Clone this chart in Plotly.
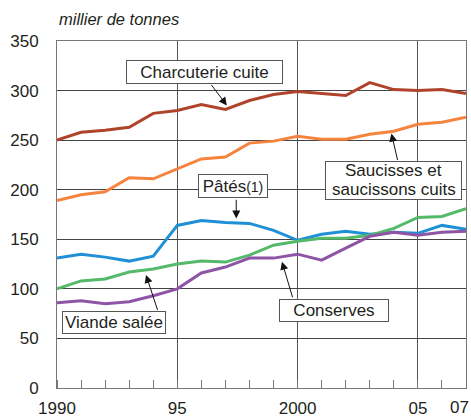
import numpy as np
import plotly.graph_objects as go

years = list(range(1990, 2008))
charcuterie = [250, 258, 260, 263, 277, 280, 286, 281, 290, 296, 299, 297, 295, 308, 301, 300, 301, 297]
saucisses = [189, 195, 198, 212, 211, 221, 231, 233, 247, 249, 254, 251, 251, 256, 259, 266, 268, 273]
pates = [131, 135, 132, 128, 133, 164, 169, 167, 166, 159, 149, 155, 158, 155, 157, 156, 164, 160]
viande = [100, 108, 110, 117, 120, 125, 128, 127, 134, 144, 148, 151, 151, 154, 161, 172, 173, 181]
conserves = [86, 88, 85, 87, 93, 100, 116, 122, 131, 131, 135, 129, 141, 153, 157, 154, 157, 158]

x_tickvals = [1990, 1995, 2000, 2005, 2007]
x_ticktext = ["1990", "95", "2000", "05", "07"]
y_tickvals = [0, 50, 100, 150, 200, 250, 300, 350]

FONT = "Liberation Sans, Arial, sans-serif"
TXT = "#231f20"

series = [
    ("Charcuterie cuite", charcuterie, "#b0442b"),
    ("Saucisses et saucissons cuits", saucisses, "#f5843f"),
    ("Pâtés", pates, "#1f8fd6"),
    ("Viande salée", viande, "#55b96a"),
    ("Conserves", conserves, "#8e55a6"),
]

fig = go.Figure()
for name, vals, col in series:
    fig.add_trace(go.Scatter(x=years, y=vals, mode="lines", name=name,
                             line=dict(color=col, width=3), showlegend=False,
                             hoverinfo="skip"))

# label boxes: (text, x, y, width, height)
boxes = [
    ("Charcuterie cuite", 1996.15, 319.1, 155, 22),
    ("Pâtés<span style='font-size:14px'>(1)</span>", 1997.33, 204, 68, 22),
    ("Viande salée", 1992.37, 65.8, 102, 21),
    ("Conserves", 2001.52, 78.6, 108, 21),
]
# arrows: (series values, head x, offset, tail x, tail y)
arrows = [
    (charcuterie, 1997.06, 3.5, 1996.37, 307.2),
    (pates, 1997.45, 4.5, 1997.45, 191.4),
    (saucisses, 2003.9, -2, 2004.17, 228.5),
    (viande, 1993.7, -5, 1994.2, 77.2),
    (conserves, 1999.35, -5, 1999.81, 90),
]

annotations = []
for vals, hx, off, tx, ty in arrows:
    hy = float(np.interp(hx, years, vals)) + off
    annotations.append(dict(x=hx, y=hy, xref="x", yref="y", text="", showarrow=True,
                            ax=tx, ay=ty, axref="x", ayref="y",
                            arrowhead=2, arrowsize=1.6, arrowwidth=1, arrowcolor="#111"))
for text, bx, by, w, h in boxes:
    annotations.append(dict(x=bx, y=by, xref="x", yref="y", text=text, showarrow=False,
                            width=w, height=h, borderpad=0, bgcolor="white",
                            bordercolor="#555", borderwidth=1,
                            font=dict(family=FONT, size=17, color=TXT)))
# two-line box
annotations.append(dict(x=2004.0, y=209.7, xref="x", yref="y", text=" ", showarrow=False,
                        width=135, height=37, borderpad=0, bgcolor="white",
                        bordercolor="#555", borderwidth=1,
                        font=dict(family=FONT, size=17, color=TXT)))
annotations.append(dict(x=2004.0, y=209.7, xref="x", yref="y", text="Saucisses et",
                        showarrow=False, yshift=9.5, borderpad=0,
                        font=dict(family=FONT, size=17, color=TXT)))
annotations.append(dict(x=2004.0, y=209.7, xref="x", yref="y", text="saucissons cuits",
                        showarrow=False, yshift=-9.5, borderpad=0,
                        font=dict(family=FONT, size=17, color=TXT)))
# last x label, kept inside the page
annotations.append(dict(x=x_tickvals[-1], y=0, xref="x", yref="paper", xanchor="right",
                        yanchor="top", xshift=4, yshift=-9, text=x_ticktext[-1],
                        showarrow=False, borderpad=0,
                        font=dict(family=FONT, size=17, color=TXT)))
# unit title
annotations.append(dict(x=0, y=1.063, xref="paper", yref="paper", xanchor="left",
                        yanchor="middle", text="<i>millier de tonnes</i>", showarrow=False,
                        font=dict(family=FONT, size=16.5, color=TXT)))

fig.update_layout(
    width=471, height=417,
    margin=dict(l=57, r=5, t=41, b=29),
    paper_bgcolor="white", plot_bgcolor="white",
    font=dict(family=FONT, size=17, color=TXT),
    annotations=annotations,
    xaxis=dict(range=[1990, 2007], tickmode="array", tickvals=x_tickvals,
               ticktext=x_ticktext[:-1] + [""],
               showgrid=True, gridcolor="#555", gridwidth=1, zeroline=False,
               showline=True, linecolor="#777", linewidth=1, mirror=True,
               ticks="", ticklabelstandoff=5, automargin=False, ticklabeloverflow="allow",
               tickfont=dict(family=FONT, size=17, color=TXT),
               minor=dict(tickmode="array", tickvals=years, ticks="inside", ticklen=8,
                          tickcolor="#777", tickwidth=1, showgrid=False)),
    yaxis=dict(range=[0, 350], tickmode="array", tickvals=y_tickvals,
               showgrid=True, gridcolor="#444", gridwidth=1, zeroline=False,
               showline=True, linecolor="#777", linewidth=1, mirror=True,
               ticks="", ticklabelstandoff=14, automargin=False, ticklabeloverflow="allow",
               tickfont=dict(family=FONT, size=17, color=TXT)),
)

fig.write_html("out.html", config={"displayModeBar": False},
               post_script="document.body.style.margin='0';")
